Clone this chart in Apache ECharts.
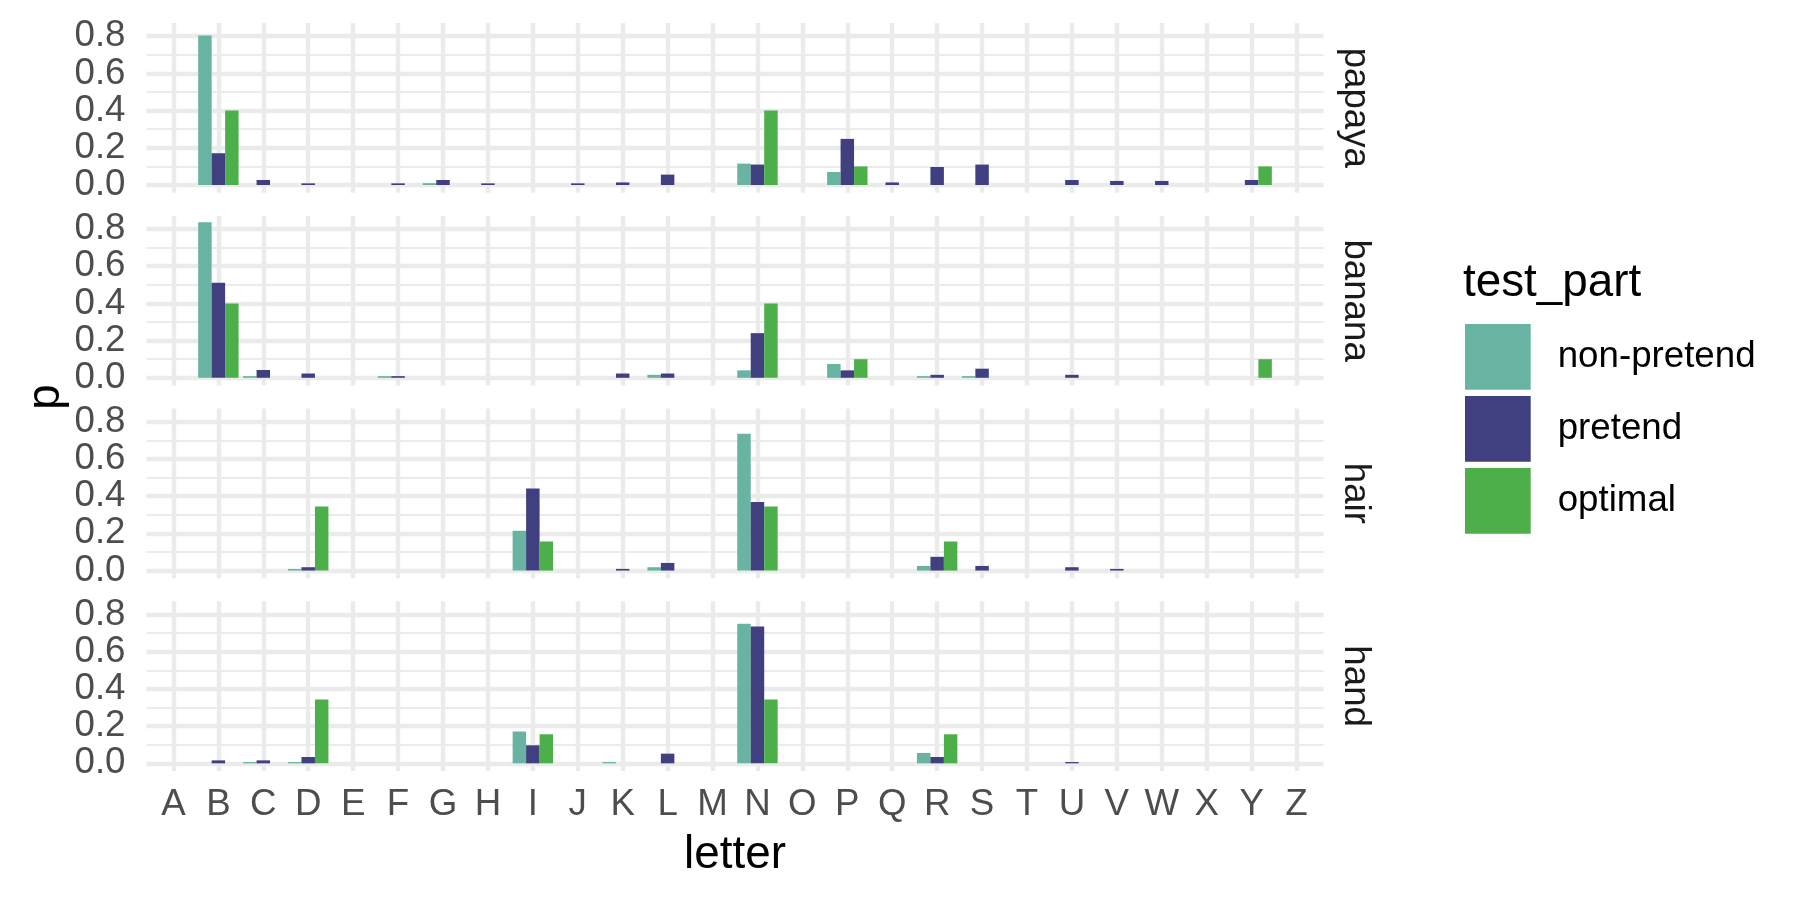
<!DOCTYPE html>
<html><head><meta charset="utf-8">
<script src="https://cdn.jsdelivr.net/npm/echarts@6/dist/echarts.min.js"></script>
<style>html,body{margin:0;padding:0;background:#fff}#c{width:1800px;height:900px}</style>
</head><body><div id="c"></div><script>
// ---- data ----
const letters = ['A','B','C','D','E','F','G','H','I','J','K','L','M','N','O','P','Q','R','S','T','U','V','W','X','Y','Z'];
const facets = ['papaya','banana','hair','hand'];
const seriesNames = ['non-pretend','pretend','optimal'];
const yTicks = [0, 0.2, 0.4, 0.6, 0.8];

//                 A    B    C    D    E    F    G    H    I    J    K    L    M    N    O    P    Q    R    S    T    U    V    W    X    Y    Z
const papayaNP  = [0,.804,   0,   0,   0,   0,.010,   0,   0,   0,   0,   0,   0,.115,   0,.070,   0,   0,   0,   0,   0,   0,   0,   0,   0,   0];
const papayaP   = [0,.171,.027,.009,   0,.009,.027,.009,   0,.009,.014,.056,   0,.110,   0,.248,.014,.097,.110,   0,.027,.022,.022,   0,.027,   0];
const papayaOpt = [0, .40,   0,   0,   0,   0,   0,   0,   0,   0,   0,   0,   0, .40,   0, .10,   0,   0,   0,   0,   0,   0,   0,   0, .10,   0];
const bananaNP  = [0,.836,.009,   0,   0,.009,   0,   0,   0,   0,   0,.016,   0,.040,   0,.074,   0,.009,.009,   0,   0,   0,   0,   0,   0,   0];
const bananaP   = [0,.511,.042,.023,   0,.009,   0,   0,   0,   0,.023,.023,   0,.240,   0,.040,   0,.016,.049,   0,.016,   0,   0,   0,   0,   0];
const bananaOpt = [0, .40,   0,   0,   0,   0,   0,   0,   0,   0,   0,   0,   0, .40,   0, .10,   0,   0,   0,   0,   0,   0,   0,   0, .10,   0];
const hairNP    = [0,   0,   0,.009,   0,   0,   0,   0,.214,   0,   0,.018,   0,.735,   0,   0,   0,.025,   0,   0,   0,   0,   0,   0,   0,   0];
const hairP     = [0,   0,   0,.018,   0,   0,   0,   0,.441,   0,.009,.041,   0,.369,   0,   0,   0,.074,.025,   0,.018,.009,   0,   0,   0,   0];
const hairOpt   = [0,   0,   0,.34375,0,   0,   0,   0,.15625,0,  0,   0,   0,.34375,0,  0,   0,.15625,0,  0,   0,   0,   0,   0,   0,   0];
const handNP    = [0,   0,.007,.007,   0,   0,   0,   0,.171,   0,.007,   0,   0,.751,   0,   0,   0,.056,   0,   0,   0,   0,   0,   0,   0,   0];
const handP     = [0,.016,.016,.034,   0,   0,   0,   0,.097,   0,   0,.052,   0,.735,   0,   0,   0,.034,   0,   0,.007,   0,   0,   0,   0,   0];
const handOpt   = [0,   0,   0,.34375,0,   0,   0,   0,.15625,0,  0,   0,   0,.34375,0,  0,   0,.15625,0,  0,   0,   0,   0,   0,   0,   0];

const facetData = {
  papaya: [papayaNP, papayaP, papayaOpt],
  banana: [bananaNP, bananaP, bananaOpt],
  hair:   [hairNP, hairP, hairOpt],
  hand:   [handNP, handP, handOpt]
};
const colors = ['#69B3A2', '#404080', '#4DAF4A'];

// ---- layout ----
const FONT = "'Liberation Sans', Arial, Helvetica, sans-serif";
const panelLeft = 146.5, panelRight = 1323.5;
const firstTop = 22.9, step = 192.77, panelH = 169.85;
const yMin = -0.0415, yMax = 0.8715;
const unit = (panelRight - panelLeft) / 26.2;
const xA = panelLeft + 0.6 * unit, xZ = panelRight - 0.6 * unit;
const ppu = panelH / (yMax - yMin);
const GRID = '#EBEBEB';

const grids = [], xAxes = [], yAxes = [], series = [], graphics = [];
facets.forEach((f, i) => {
  const top = firstTop + i * step;
  // background grid: horizontal grid lines + y labels
  grids.push({ left: panelLeft, width: panelRight - panelLeft, top: top + (yMax - 0.8) * ppu, height: 0.8 * ppu });
  xAxes.push({ type: 'value', gridIndex: 2 * i, min: 0, max: 1, show: false });
  yAxes.push({
    type: 'value', gridIndex: 2 * i, min: yTicks[0], max: yTicks[yTicks.length - 1], interval: 0.2,
    axisLine: { show: false }, axisTick: { show: false },
    axisLabel: { show: true, margin: 21, fontSize: 36.7, color: '#4D4D4D', fontFamily: FONT, formatter: v => v.toFixed(1) },
    splitLine: { show: true, lineStyle: { color: GRID, width: 4.4 } },
    minorTick: { show: false, splitNumber: 2 },
    minorSplitLine: { show: true, lineStyle: { color: GRID, width: 2.2 } }
  });
  // bar grid
  grids.push({ left: xA, width: xZ - xA, top: top, height: panelH });
  xAxes.push({
    type: 'category', gridIndex: 2 * i + 1, data: letters, boundaryGap: false,
    axisLine: { show: false }, axisTick: { show: false },
    axisLabel: { show: i === 3, interval: 0, margin: 15, fontSize: 36.7, color: '#4D4D4D', fontFamily: FONT },
    splitLine: { show: true, interval: 0, lineStyle: { color: GRID, width: 4.4 } },
    name: i === 3 ? 'letter' : '', nameLocation: 'middle', nameGap: 61,
    nameTextStyle: { fontSize: 45.8, color: '#000', fontFamily: FONT }
  });
  yAxes.push({ type: 'value', gridIndex: 2 * i + 1, min: yMin, max: yMax, show: false, splitLine: { show: false } });

  seriesNames.forEach((s, k) => {
    series.push({
      type: 'bar', name: s, xAxisIndex: 2 * i + 1, yAxisIndex: 2 * i + 1,
      data: facetData[f][k].map(v => v === 0 ? null : v),
      barWidth: 0.3 * unit, barGap: '0%',
      itemStyle: { color: colors[k] },
      silent: true, animation: false
    });
  });

  graphics.push({
    type: 'text', x: 1355, y: top + panelH / 2, rotation: -Math.PI / 2,
    style: { text: f, fontSize: 36.7, fontFamily: FONT, fill: '#1A1A1A', align: 'center', verticalAlign: 'middle', textAlign: 'center', textVerticalAlign: 'middle' }
  });
});
graphics.push({
  type: 'text', x: 46, y: firstTop + (3 * step + panelH) / 2, rotation: Math.PI / 2,
  style: { text: 'p', fontSize: 45.8, fontFamily: FONT, fill: '#000', align: 'center', verticalAlign: 'middle', textAlign: 'center', textVerticalAlign: 'middle' }
});

const chart = echarts.init(document.getElementById('c'), null, { renderer: 'canvas' });
chart.setOption({
  animation: false,
  backgroundColor: '#fff',
  title: { text: 'test_part', left: 1463, top: 260, padding: 0, textStyle: { fontSize: 45.8, fontWeight: 'normal', color: '#000', fontFamily: FONT } },
  legend: {
    data: seriesNames, orient: 'vertical', left: 1465, top: 324, padding: 0,
    itemWidth: 65.7, itemHeight: 65.7, itemGap: 6.3, icon: 'rect', selectedMode: false,
    textStyle: { fontSize: 36.7, color: '#000', fontFamily: FONT, padding: [0, 0, 0, 22] }
  },
  grid: grids, xAxis: xAxes, yAxis: yAxes, series: series,
  graphic: graphics
});
</script></body></html>
